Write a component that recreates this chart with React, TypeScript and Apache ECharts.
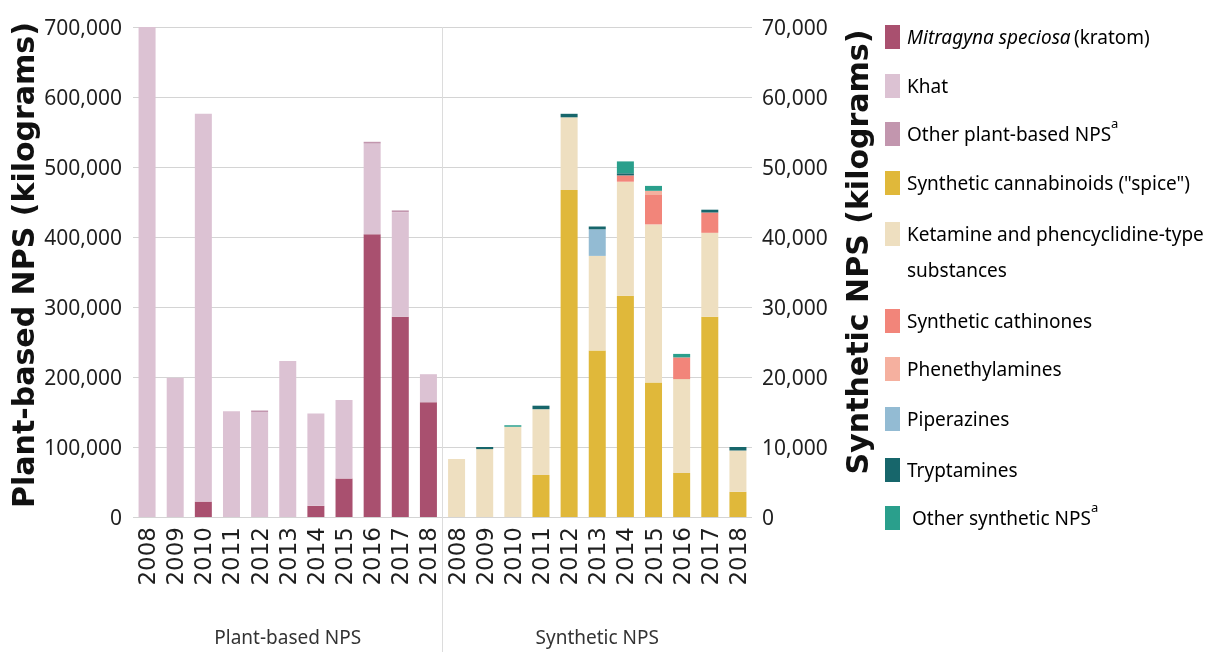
import React, { useEffect, useRef } from "react";
import * as echarts from "echarts";

const years = ["2008", "2009", "2010", "2011", "2012", "2013", "2014", "2015", "2016", "2017", "2018"];
const categories = [...years, ...years];

// Plant-based NPS (kg) – left axis
const kratom = [0, 0, 22000, 0, 0, 0, 16000, 55000, 404000, 286000, 164000];
const khat = [700000, 199000, 554000, 151000, 150000, 223000, 132000, 112000, 129500, 149500, 40000];
const otherPlant = [0, 0, 0, 0, 2000, 0, 0, 0, 2500, 2500, 0];

// Synthetic NPS (kg) – right axis
const spice = [0, 0, 0, 6000, 46700, 23800, 31600, 19200, 6300, 28600, 3600];
const ketamine = [8300, 9700, 12900, 9400, 10400, 13500, 16300, 22600, 13400, 12000, 5900];
const cathinones = [0, 0, 0, 0, 0, 0, 900, 4200, 3100, 2900, 0];
const phenethylamines = [0, 0, 0, 0, 0, 0, 0, 600, 0, 0, 0];
const piperazines = [0, 0, 0, 0, 0, 3800, 0, 0, 0, 0, 0];
const tryptamines = [0, 300, 0, 500, 500, 400, 300, 0, 0, 400, 500];
const otherSynthetic = [0, 0, 200, 0, 0, 0, 1700, 700, 500, 0, 0];

const leftTicks = [0, 100000, 200000, 300000, 400000, 500000, 600000, 700000];
const rightTicks = [0, 10000, 20000, 30000, 40000, 50000, 60000, 70000];

const groupLabels = ["Plant-based NPS", "Synthetic NPS"];

const C = {
  kratom: "#a9506f",
  khat: "#dcc2d3",
  otherPlant: "#c296ae",
  spice: "#e0b83a",
  ketamine: "#eedfc0",
  cathinones: "#f2857a",
  phenethylamines: "#f5b09f",
  piperazines: "#93bbd3",
  tryptamines: "#17666b",
  otherSynthetic: "#2a9f8c",
};

const legendItems = [
  { key: "kratom", text: "{i|Mitragyna speciosa} {n|(kratom)}", y: 37 },
  { key: "khat", text: "{n|Khat}", y: 86 },
  { key: "otherPlant", text: "{n|Other plant-based NPS}{s|a}", y: 134 },
  { key: "spice", text: '{n|Synthetic cannabinoids ("spice")}', y: 183 },
  { key: "ketamine", text: "{n|Ketamine and phencyclidine-type}\n{n|substances}", y: 234 },
  { key: "cathinones", text: "{n|Synthetic cathinones}", y: 321 },
  { key: "phenethylamines", text: "{n|Phenethylamines}", y: 369 },
  { key: "piperazines", text: "{n|Piperazines}", y: 419 },
  { key: "tryptamines", text: "{n|Tryptamines}", y: 470 },
  { key: "otherSynthetic", text: "{n| Other synthetic NPS}{s|a}", y: 518 },
];

const pad = (arr: number[]) => arr.map((v) => (v === 0 ? "-" : v));
const NONE = years.map(() => "-");

export default function App() {
  const ref = useRef<HTMLDivElement>(null);
  useEffect(() => {
    if (!ref.current) return;
    const chart = echarts.init(ref.current, null, { renderer: "svg" });
    const fmt = (v: number) => v.toLocaleString("en-US");
    const plantSeries = [
      { name: "Mitragyna speciosa (kratom)", data: kratom, color: C.kratom },
      { name: "Khat", data: khat, color: C.khat },
      { name: "Other plant-based NPS", data: otherPlant, color: C.otherPlant },
    ].map((s) => ({
      type: "bar",
      name: s.name,
      stack: "all",
      yAxisIndex: 0,
      barWidth: 17,
      itemStyle: { color: s.color },
      data: [...pad(s.data), ...NONE],
    }));
    const synthSeries = [
      { name: 'Synthetic cannabinoids ("spice")', data: spice, color: C.spice },
      { name: "Ketamine and phencyclidine-type substances", data: ketamine, color: C.ketamine },
      { name: "Synthetic cathinones", data: cathinones, color: C.cathinones },
      { name: "Phenethylamines", data: phenethylamines, color: C.phenethylamines },
      { name: "Piperazines", data: piperazines, color: C.piperazines },
      { name: "Tryptamines", data: tryptamines, color: C.tryptamines },
      { name: "Other synthetic NPS", data: otherSynthetic, color: C.otherSynthetic },
    ].map((s) => ({
      type: "bar",
      name: s.name,
      stack: "all",
      yAxisIndex: 1,
      barWidth: 17,
      itemStyle: { color: s.color },
      data: [...NONE, ...pad(s.data)],
    }));

    const tickFont = { fontFamily: "'Noto Sans', sans-serif", fontSize: 21, color: "#1f1f1f" };

    chart.setOption({
      animation: false,
      grid: { left: 133, right: 471, top: 27, bottom: 142 },
      xAxis: {
        type: "category",
        data: categories,
        axisLine: { show: false },
        axisTick: { show: false },
        axisLabel: {
          interval: 0,
          rotate: 90,
          margin: 10,
          fontFamily: "'DejaVu Sans', sans-serif",
          fontSize: 23,
          color: "#1f1f1f",
        },
      },
      yAxis: [
        {
          type: "value",
          min: leftTicks[0],
          max: leftTicks[leftTicks.length - 1],
          interval: leftTicks[1] - leftTicks[0],
          axisLine: { show: false },
          axisTick: { show: false },
          splitLine: { lineStyle: { color: "#d4d4d4", width: 1 } },
          axisLabel: { ...tickFont, margin: 11, formatter: fmt },
        },
        {
          type: "value",
          position: "right",
          min: rightTicks[0],
          max: rightTicks[rightTicks.length - 1],
          interval: rightTicks[1] - rightTicks[0],
          axisLine: { show: false },
          axisTick: { show: false },
          splitLine: { show: false },
          axisLabel: { ...tickFont, margin: 10, formatter: fmt },
        },
      ],
      series: [...plantSeries, ...synthSeries],
    });

    const xs = (i: number) => chart.convertToPixel({ xAxisIndex: 0 }, i) as number;
    const sepX = Math.round((xs(10) + xs(11)) / 2) + 0.5;
    const titleFont = { fontFamily: "'DejaVu Sans', sans-serif", fontWeight: "bold", fontSize: 30, fill: "#111" };
    const legendRich = {
      n: { fontFamily: "'Noto Sans', sans-serif", fontSize: 19, color: "#1f1f1f", lineHeight: 36 },
      i: { fontFamily: "'Noto Sans', sans-serif", fontSize: 19, fontStyle: "italic", color: "#1f1f1f", lineHeight: 36 },
      s: { fontFamily: "'Noto Sans', sans-serif", fontSize: 13, color: "#1f1f1f", verticalAlign: "top", lineHeight: 26 },
    };

    const graphic: any[] = [
      {
        type: "line",
        shape: { x1: sepX, y1: 27, x2: sepX, y2: 652 },
        style: { stroke: "#dcdcdc", lineWidth: 1 },
        silent: true,
      },
      {
        type: "text",
        x: 23,
        y: 265,
        rotation: Math.PI / 2,
        style: { ...titleFont, text: "Plant-based NPS (kilograms)", align: "center", verticalAlign: "middle" },
      },
      {
        type: "text",
        x: 857,
        y: 252,
        rotation: Math.PI / 2,
        style: { ...titleFont, text: "Synthetic NPS (kilograms)", align: "center", verticalAlign: "middle" },
      },
      {
        type: "text",
        x: xs(5),
        y: 637,
        style: { text: groupLabels[0], fontFamily: "'Noto Sans', sans-serif", fontSize: 19, fill: "#333", align: "center", verticalAlign: "middle" },
      },
      {
        type: "text",
        x: xs(16),
        y: 637,
        style: { text: groupLabels[1], fontFamily: "'Noto Sans', sans-serif", fontSize: 19, fill: "#333", align: "center", verticalAlign: "middle" },
      },
    ];
    legendItems.forEach((it) => {
      graphic.push({
        type: "rect",
        shape: { x: 885, y: it.y - 12, width: 15, height: 24 },
        style: { fill: (C as any)[it.key] },
      });
      graphic.push({
        type: "text",
        x: 907,
        y: it.y - 18,
        style: { text: it.text, rich: legendRich, align: "left", verticalAlign: "top" },
      });
    });
    chart.setOption({ graphic });

    return () => chart.dispose();
  }, []);
  return <div ref={ref} style={{ position: "fixed", left: 0, top: 0, width: 1223, height: 659 }} />;
}
